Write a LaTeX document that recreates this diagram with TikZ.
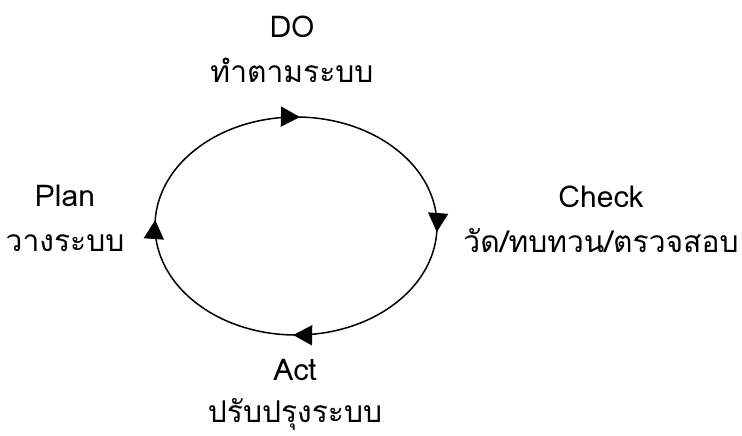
\documentclass[tikz,border=0pt]{standalone}
\usepackage{fontspec}
\newfontfamily\thaifont[Script=Thai]{Loma}
\usetikzlibrary{decorations.markings,arrows.meta}
\tikzset{
    /pgf/decoration/Tip/.style={
            mark=at position #1 with
                {
                    \arrow{Triangle[length=19pt,width=20pt]}
                }
        },
    arrow inside/.style={
            postaction={
                    decorate,decoration={
                            markings,Tip/.list={#1}
                        }
                }
        },
    label text/.style={font=\thaifont\fontsize{30}{45}\selectfont, align=center, inner sep=0pt},
}

\begin{document}
\begin{tikzpicture}[x=1pt,y=1pt]
        \useasboundingbox (0,0) rectangle (742,436);
        %draw the cycle, clockwise from upper left
        \draw[line width=1.5pt, arrow inside={110.5pt,309.8pt,503.8pt,704.1pt}]
            (296,210) ++(135:141 and 109)
            arc[start angle=135, end angle=-225, x radius=141, y radius=109];
        %label the four steps
        \node[label text] (do) at (292,387) {DO\\ทำตามระบบ};
        \node[label text] (check) at (601,217) {Check\\วัด/ทบทวน/ตรวจสอบ};
        \node[label text, font=\thaifont\fontsize{30}{42}\selectfont] (act) at (295,41) {Act\\ปรับปรุงระบบ};
        \node[label text] (plan) at (65,218) {Plan\\วางระบบ};
    \end{tikzpicture}
\end{document}
